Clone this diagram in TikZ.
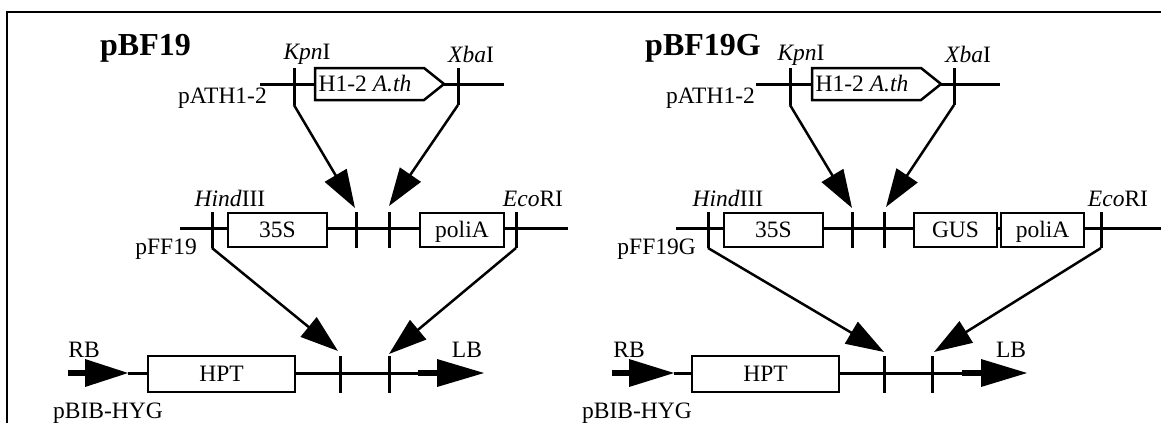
\documentclass[tikz,border=0pt]{standalone}
\usepackage{fontspec}
\setmainfont{Liberation Serif}
\usetikzlibrary{arrows.meta}
\begin{document}
\begin{tikzpicture}[x=1pt,y=-1pt,
  dna/.style={line width=3pt},
  site/.style={line width=3pt},
  thickend/.style={line width=6pt},
  gbox/.style={draw, fill=white, line width=2.5pt, inner sep=0pt, text height=15.5pt, text depth=0pt, font=\fontsize{23.5}{28}\selectfont},
  gpath/.style={draw, fill=white, line width=2.5pt, line join=miter},
  conn/.style={line width=2.5pt, -{Triangle[length=38pt,width=25pt]}},
  lab/.style={inner sep=0pt, font=\fontsize{23.5}{28}\selectfont},
  ttl/.style={inner sep=0pt, font=\fontsize{32}{36}\selectfont\bfseries},
  border/.style={line width=2pt}]
\useasboundingbox (0,0) rectangle (1161,423);
\draw[border] (7,423) -- (7,12) -- (1161,12);

% ================= LEFT PANEL =================
\node[ttl, anchor=base west] (titleL) at (100,55) {pBF19};
% pATH1-2
\coordinate (aL0) at (260,84); \coordinate (aL1) at (504,84);
\draw[dna] (aL0) -- (aL1);
\draw[gpath] (315,68) -- (424,68) -- (444,84) -- (424,100) -- (315,100) -- cycle;
\node[lab] (hL) at (365,84) {H1-2 \textit{A.th}};
\coordinate (kpnLt) at (294,68); \coordinate (kpnL) at (294,105);
\coordinate (xbaLt) at (458,68); \coordinate (xbaL) at (458,105);
\draw[site] (kpnLt) -- (kpnL);
\draw[site] (xbaLt) -- (xbaL);
\node[lab, anchor=base] (kpnLlab) at (307,59) {\textit{Kpn}I};
\node[lab, anchor=base] (xbaLlab) at (471,62) {\textit{Xba}I};
\node[lab, anchor=base east] (pathL) at (267,103) {pATH1-2};
% pFF19
\coordinate (fL0) at (180,228); \coordinate (fL1) at (568,228);
\draw[dna] (fL0) -- (fL1);
\coordinate (hinLt) at (212,212); \coordinate (hinL) at (212,248);
\coordinate (j1Lt) at (356,212); \coordinate (j1L) at (356,248);
\coordinate (j2Lt) at (389,212); \coordinate (j2L) at (389,248);
\coordinate (ecoLt) at (516,212); \coordinate (ecoL) at (516,248);
\foreach \a/\b in {hinLt/hinL, j1Lt/j1L, j2Lt/j2L, ecoLt/ecoL} \draw[site] (\a) -- (\b);
\node[gbox, minimum width=99pt, minimum height=34pt] (s35L) at (277.5,230) {35S};
\node[gbox, minimum width=84pt, minimum height=34pt] (polL) at (462,230) {poliA};
\node[lab, anchor=base] (hinLlab) at (230,206) {\textit{Hind}III};
\node[lab, anchor=base] (ecoLlab) at (533,206) {\textit{Eco}RI};
\node[lab, anchor=base east] (pffL) at (197,254) {pFF19};
\coordinate (tA1L) at (355,208); \coordinate (tA2L) at (389,206);
\draw[conn] (kpnL) -- (tA1L);
\draw[conn] (xbaL) -- (tA2L);
% pBIB-HYG
\coordinate (bL0) at (128,373); \coordinate (bL1) at (420,373);
\draw[dna] (bL0) -- (bL1);
\draw[thickend] (68,373) -- (87,373);
\fill (85,359) -- (128,373) -- (85,387) -- cycle;
\draw[thickend] (418,373) -- (439,373);
\fill (437,359) -- (484,373) -- (437,387) -- cycle;
\node[gbox, minimum width=147pt, minimum height=36pt] (hptL) at (221.5,374) {HPT};
\coordinate (k1Lt) at (340,356); \coordinate (k1L) at (340,393);
\coordinate (k2Lt) at (389,356); \coordinate (k2L) at (389,393);
\draw[site] (k1Lt) -- (k1L);
\draw[site] (k2Lt) -- (k2L);
\node[lab, anchor=base] (rbL) at (84,357) {RB};
\node[lab, anchor=base] (lbL) at (467,357) {LB};
\node[lab, anchor=base west] (pbibL) at (53,418) {pBIB-HYG};
\coordinate (tB1L) at (338,351); \coordinate (tB2L) at (389,354);
\draw[conn] (hinL) -- (tB1L);
\draw[conn] (ecoL) -- (tB2L);

% ================= RIGHT PANEL =================
\node[ttl, anchor=base west] (titleR) at (645,55) {pBF19G};
% pATH1-2
\coordinate (aR0) at (756,84); \coordinate (aR1) at (1000,84);
\draw[dna] (aR0) -- (aR1);
\draw[gpath] (812,68) -- (921,68) -- (941,84) -- (921,100) -- (812,100) -- cycle;
\node[lab] (hR) at (862,84) {H1-2 \textit{A.th}};
\coordinate (kpnRt) at (790,68); \coordinate (kpnR) at (790,105);
\coordinate (xbaRt) at (954,68); \coordinate (xbaR) at (954,105);
\draw[site] (kpnRt) -- (kpnR);
\draw[site] (xbaRt) -- (xbaR);
\node[lab, anchor=base] (kpnRlab) at (801,60) {\textit{Kpn}I};
\node[lab, anchor=base] (xbaRlab) at (968,62) {\textit{Xba}I};
\node[lab, anchor=base east] (pathR) at (755,103) {pATH1-2};
% pFF19G
\coordinate (fR0) at (676,228); \coordinate (fR1) at (1161,228);
\draw[dna] (fR0) -- (fR1);
\coordinate (hinRt) at (708,212); \coordinate (hinR) at (708,248);
\coordinate (j1Rt) at (852,212); \coordinate (j1R) at (852,248);
\coordinate (j2Rt) at (884,212); \coordinate (j2R) at (884,248);
\coordinate (ecoRt) at (1101,212); \coordinate (ecoR) at (1101,248);
\foreach \a/\b in {hinRt/hinR, j1Rt/j1R, j2Rt/j2R, ecoRt/ecoR} \draw[site] (\a) -- (\b);
\node[gbox, minimum width=99pt, minimum height=34pt] (s35R) at (773.5,230) {35S};
\node[gbox, minimum width=83pt, minimum height=34pt] (gusR) at (955.5,230) {GUS};
\node[gbox, minimum width=83pt, minimum height=34pt] (polR) at (1042.5,230) {poliA};
\node[lab, anchor=base] (hinRlab) at (728,206) {\textit{Hind}III};
\node[lab, anchor=base] (ecoRlab) at (1118,206) {\textit{Eco}RI};
\node[lab, anchor=base east] (pffR) at (696,254) {pFF19G};
\coordinate (tA1R) at (852,208); \coordinate (tA2R) at (886,207);
\draw[conn] (kpnR) -- (tA1R);
\draw[conn] (xbaR) -- (tA2R);
% pBIB-HYG
\coordinate (bR0) at (674,373); \coordinate (bR1) at (964,373);
\draw[dna] (bR0) -- (bR1);
\draw[thickend] (612,373) -- (631,373);
\fill (629,359) -- (674,373) -- (629,387) -- cycle;
\draw[thickend] (962,373) -- (983,373);
\fill (981,359) -- (1027,373) -- (981,387) -- cycle;
\node[gbox, minimum width=147pt, minimum height=36pt] (hptR) at (765.5,374) {HPT};
\coordinate (k1Rt) at (884,356); \coordinate (k1R) at (884,393);
\coordinate (k2Rt) at (932,356); \coordinate (k2R) at (932,393);
\draw[site] (k1Rt) -- (k1R);
\draw[site] (k2Rt) -- (k2R);
\node[lab, anchor=base] (rbR) at (629,357) {RB};
\node[lab, anchor=base] (lbR) at (1011,357) {LB};
\node[lab, anchor=base west] (pbibR) at (582,418) {pBIB-HYG};
\coordinate (tB1R) at (884,352); \coordinate (tB2R) at (934,352);
\draw[conn] (hinR) -- (tB1R);
\draw[conn] (ecoR) -- (tB2R);
\end{tikzpicture}
\end{document}
